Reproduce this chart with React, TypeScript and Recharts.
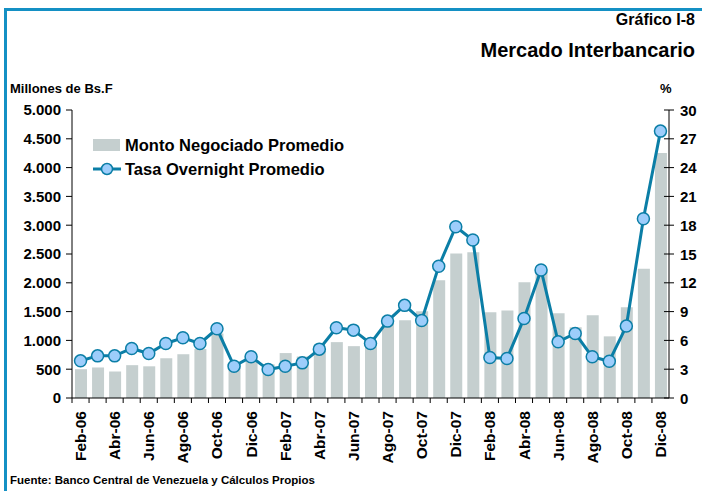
import {
  ComposedChart,
  Bar,
  Line,
  XAxis,
  YAxis,
} from "recharts";

const meses = [
  "Feb-06", "Mar-06", "Abr-06", "May-06", "Jun-06", "Jul-06", "Ago-06", "Sep-06", "Oct-06", "Nov-06", "Dic-06",
  "Ene-07", "Feb-07", "Mar-07", "Abr-07", "May-07", "Jun-07", "Jul-07", "Ago-07", "Sep-07", "Oct-07", "Nov-07", "Dic-07",
  "Ene-08", "Feb-08", "Mar-08", "Abr-08", "May-08", "Jun-08", "Jul-08", "Ago-08", "Sep-08", "Oct-08", "Nov-08", "Dic-08",
];

// millones de Bs.F
const montoNegociado = [
  500, 530, 460, 570, 550, 690, 760, 850, 1120, 620, 650,
  585, 780, 720, 820, 970, 900, 890, 1290, 1350, 1505, 2045, 2510,
  2530, 1490, 1520, 2010, 2200, 1470, 1230, 1435, 1070, 1575, 2245, 4255,
];

// %
const tasaOvernight = [
  3.87, 4.39, 4.39, 5.16, 4.63, 5.68, 6.27, 5.68, 7.21, 3.31, 4.29,
  2.96, 3.31, 3.66, 5.09, 7.32, 7.07, 5.68, 8.01, 9.65, 8.08, 13.73, 17.84,
  16.45, 4.22, 4.11, 8.29, 13.34, 5.85, 6.72, 4.29, 3.83, 7.49, 18.68, 27.8,
];

const ticksMonto = [0, 500, 1000, 1500, 2000, 2500, 3000, 3500, 4000, 4500, 5000];
const ticksTasa = [0, 3, 6, 9, 12, 15, 18, 21, 24, 27, 30];

const data = meses.map((mes, i) => ({
  mes,
  monto: montoNegociado[i],
  tasa: tasaOvernight[i],
}));

const FONT = "'Liberation Sans', Arial, sans-serif";
const AZUL = "#0b7ea6";
const MARCADOR = "#9dcdfb";
const GRIS = "#c5cfcf";
const CAT_W = 597 / meses.length;

const formatMiles = (v: number) =>
  v.toString().replace(/\B(?=(\d{3})+(?!\d))/g, ".");

const MesTick = (props: any) => {
  const { x, y, payload } = props;
  const idx = payload.index;
  const xb = x - CAT_W / 2;
  return (
    <g>
      <line x1={xb} x2={xb} y1={y - 8} y2={y - 3} stroke="#000" strokeWidth={1} />
      {idx % 2 === 0 && (
        <text
          x={x}
          y={y + 5}
          transform={`rotate(-90, ${x}, ${y + 5})`}
          textAnchor="end"
          dominantBaseline="central"
          fontFamily={FONT}
          fontWeight="bold"
          fontSize={15.5}
          fill="#000"
        >
          {payload.value}
        </text>
      )}
    </g>
  );
};

const TasaTick = (props: any) => {
  const { x, y, payload } = props;
  return (
    <g>
      <line x1={x - 16} x2={x - 6} y1={y} y2={y} stroke="#000" strokeWidth={1} />
      <text
        x={x}
        y={y}
        textAnchor="start"
        dominantBaseline="central"
        fontFamily={FONT}
        fontWeight="bold"
        fontSize={15}
        fill="#000"
      >
        {payload.value}
      </text>
    </g>
  );
};

const Leyenda = () => (
  <div
    style={{
      position: "absolute",
      left: 93,
      top: 133,
      fontFamily: FONT,
      fontWeight: "bold",
      fontSize: 16.5,
      color: "#000",
      whiteSpace: "nowrap",
    }}
  >
    <div style={{ display: "flex", alignItems: "center", height: 24 }}>
      <svg width={32} height={14}>
        <rect x={0} y={1} width={27} height={12} fill={GRIS} />
      </svg>
      <span>Monto Negociado Promedio</span>
    </div>
    <div style={{ display: "flex", alignItems: "center", height: 24 }}>
      <svg width={32} height={14}>
        <line x1={0} x2={28} y1={7} y2={7} stroke={AZUL} strokeWidth={3} />
        <circle cx={14} cy={7} r={5.5} fill={MARCADOR} stroke={AZUL} strokeWidth={1.5} />
      </svg>
      <span>Tasa Overnight Promedio</span>
    </div>
  </div>
);

const txt = {
  position: "absolute" as const,
  fontFamily: FONT,
  fontWeight: "bold" as const,
  color: "#000",
  whiteSpace: "nowrap" as const,
  lineHeight: 1,
};

export default function App() {
  return (
    <div
      style={{
        position: "absolute",
        left: 0,
        top: 0,
        width: 702,
        height: 491,
        background: "#fff",
        overflow: "hidden",
      }}
    >
      <div
        style={{
          position: "absolute",
          left: 4,
          top: 8,
          width: 698,
          height: 483,
          borderTop: "3px solid #1490c4",
          borderLeft: "3px solid #1490c4",
          boxSizing: "border-box",
        }}
      />
      <div style={{ ...txt, right: 7, top: 12, fontSize: 16 }}>Gráfico I-8</div>
      <div style={{ ...txt, right: 7, top: 40, fontSize: 20 }}>Mercado Interbancario</div>
      <div style={{ ...txt, left: 10, top: 82, fontSize: 13 }}>Millones de Bs.F</div>
      <div style={{ ...txt, left: 660, top: 82, fontSize: 13 }}>%</div>
      <div style={{ ...txt, left: 10, top: 475, fontSize: 11.5 }}>
        Fuente: Banco Central de Venezuela y Cálculos Propios
      </div>

      <div style={{ position: "absolute", left: 0, top: 0 }}>
        <ComposedChart
          width={702}
          height={491}
          data={data}
          margin={{ top: 110, right: 3, bottom: 23, left: 10 }}
        >
          <XAxis
            dataKey="mes"
            xAxisId="x"
            interval={0}
            height={70}
            tickSize={5}
            tickMargin={3}
            tickLine={false}
            axisLine={{ stroke: "#000", strokeWidth: 1 }}
            tick={<MesTick />}
          />
          <YAxis
            yAxisId="monto"
            orientation="left"
            width={62}
            domain={[0, 5000]}
            ticks={ticksMonto}
            tickFormatter={formatMiles}
            tickSize={6}
            tickMargin={5}
            axisLine={{ stroke: "#000" }}
            tickLine={{ stroke: "#000" }}
            tick={{ fontFamily: FONT, fontWeight: "bold", fontSize: 15, fill: "#000" }}
          />
          <YAxis
            yAxisId="tasa"
            orientation="right"
            width={30}
            domain={[0, 30]}
            ticks={ticksTasa}
            tickSize={5}
            tickMargin={6}
            tickLine={false}
            axisLine={{ stroke: "#000" }}
            tick={<TasaTick />}
          />
          <Bar
            xAxisId="x"
            yAxisId="monto"
            dataKey="monto"
            fill={GRIS}
            barSize={12}
            isAnimationActive={false}
          />
          <Line
            xAxisId="x"
            yAxisId="tasa"
            dataKey="tasa"
            stroke={AZUL}
            strokeWidth={3}
            dot={{ r: 6, fill: MARCADOR, stroke: AZUL, strokeWidth: 1.5 }}
            isAnimationActive={false}
          />
        </ComposedChart>
      </div>
      <Leyenda />
    </div>
  );
}
